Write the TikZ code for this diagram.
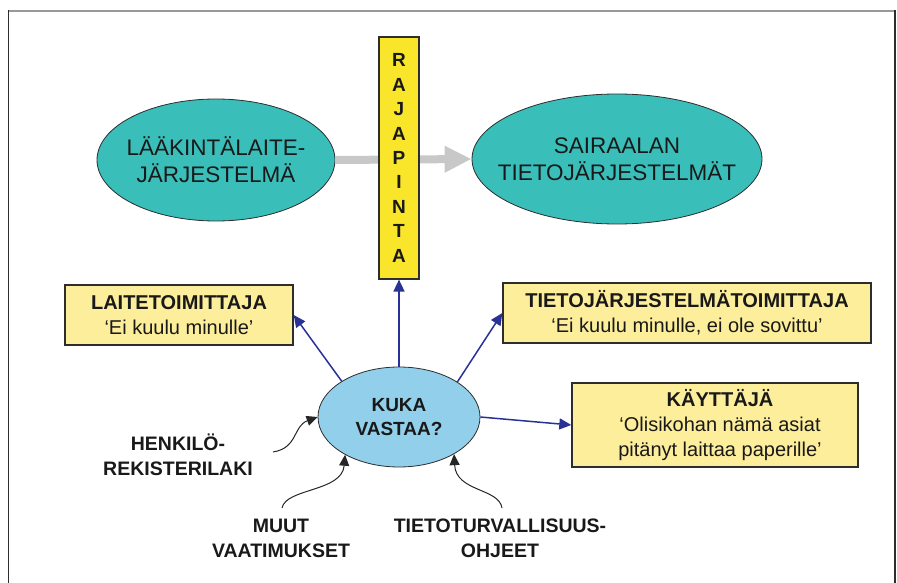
\documentclass[tikz,border=0pt]{standalone}
\usepackage{fontspec}
\setmainfont{Liberation Sans}
\usetikzlibrary{arrows.meta,shapes.geometric}
\definecolor{teal1}{RGB}{58,190,186}
\definecolor{skyb}{RGB}{146,207,235}
\definecolor{yel}{RGB}{249,229,42}
\definecolor{lyel}{RGB}{253,238,155}
\definecolor{navy1}{RGB}{40,50,150}
\definecolor{grayarr}{RGB}{200,200,200}
\definecolor{edge}{RGB}{45,45,45}
\tikzset{
  bigell/.style={ellipse,draw=edge,line width=0.8pt,fill=teal1,inner sep=0pt},
  elltext/.style={inner sep=0pt,font=\fontsize{22.5}{27}\selectfont,align=center,text=black!90},
  infobox/.style={rectangle,draw=edge,line width=1.4pt,fill=lyel,inner sep=0pt,
    font=\fontsize{20}{25}\selectfont,align=center,text=black!90},
  boxtext/.style={inner sep=0pt,font=\fontsize{20}{25}\selectfont,align=center,text=black!90},
  lbl/.style={inner sep=0pt,font=\bfseries\fontsize{19.5}{25}\selectfont,align=center,text=black!90},
  navyarr/.style={draw=navy1,line width=1.5pt,-{Triangle[length=12pt,width=11pt]}},
  blkarr/.style={draw=black!85,line width=1pt,-{Triangle[length=11pt,width=10pt]}},
}
\begin{document}
\begin{tikzpicture}[x=1pt,y=-1pt]
\useasboundingbox (0,0) rectangle (897,583);
% frame
\draw[gray!80,line width=2pt] (7.5,11) -- (895,11);
\draw[edge,line width=1.3pt] (8.5,10) -- (8.5,583);
\draw[edge,line width=1.2pt] (895,10) -- (895,583);
% ellipses
\node[bigell,minimum width=238pt,minimum height=122pt,
  label={[elltext]center:LÄÄKINTÄLAITE-\\JÄRJESTELMÄ}] (lait) at (216,160) {};
\node[bigell,minimum width=290pt,minimum height=130pt,
  label={[elltext]center:SAIRAALAN\\TIETOJÄRJESTELMÄT}] (sair) at (617,159) {};
% gray arrow
\draw[grayarr,line width=8pt,-{Triangle[length=27pt,width=25pt]}] (lait.east) -- (sair.west);
% interface box
\node[rectangle,draw=edge,line width=1.2pt,fill=yel,minimum width=40pt,minimum height=242pt,inner sep=0pt,
  font=\bfseries\fontsize{19}{24.4}\selectfont,align=center,text=black!90] (raj) at (399,158)
  {R\\A\\J\\A\\P\\I\\N\\T\\A};
% info boxes
\node[infobox,minimum width=228pt,minimum height=60pt] (laite) at (179,315) {\textbf{LAITETOIMITTAJA}\\‘Ei kuulu minulle’};
\node[infobox,minimum width=368pt,minimum height=60pt] (tieto) at (687,313) {\textbf{TIETOJÄRJESTELMÄTOIMITTAJA}\\‘Ei kuulu minulle, ei ole sovittu’};
\node[infobox,minimum width=286pt,minimum height=84pt,
  label={[boxtext,xshift=5pt]center:\textbf{KÄYTTÄJÄ}\\‘Olisikohan nämä asiat\\pitänyt laittaa paperille’}] (kay) at (715,425) {};
% central ellipse
\node[ellipse,draw=edge,line width=0.8pt,fill=skyb,minimum width=162pt,minimum height=100pt,inner sep=0pt,
  label={[lbl,font=\bfseries\fontsize{19}{24}\selectfont]center:KUKA\\VASTAA?}] (kuka) at (399,417) {};
% navy arrows
\draw[navyarr] (kuka.north) -- (raj.south);
\draw[navyarr] (kuka.148.5) -- (laite.east);
\draw[navyarr] (kuka.31) -- (tieto.west);
\draw[navyarr] (kuka.east) -- (kay.west);
% labels
\node[lbl] (henk) at (178,455) {HENKILÖ-\\REKISTERILAKI};
\node[lbl] (muut) at (281,538) {MUUT\\VAATIMUKSET};
\node[lbl] (tur) at (500,538) {TIETOTURVALLISUUS-\\OHJEET};
\coordinate (h0) at (273,452);
\coordinate (m0) at (282,508);
\coordinate (t0) at (502,508);
\draw[blkarr] (h0) .. controls (298,448) and (293,426) .. (kuka.west);
\draw[blkarr] (m0) .. controls (286,488) and (342,492) .. (kuka.215);
\draw[blkarr] (t0) .. controls (499,488) and (456,492) .. (kuka.326);
\end{tikzpicture}
\end{document}
